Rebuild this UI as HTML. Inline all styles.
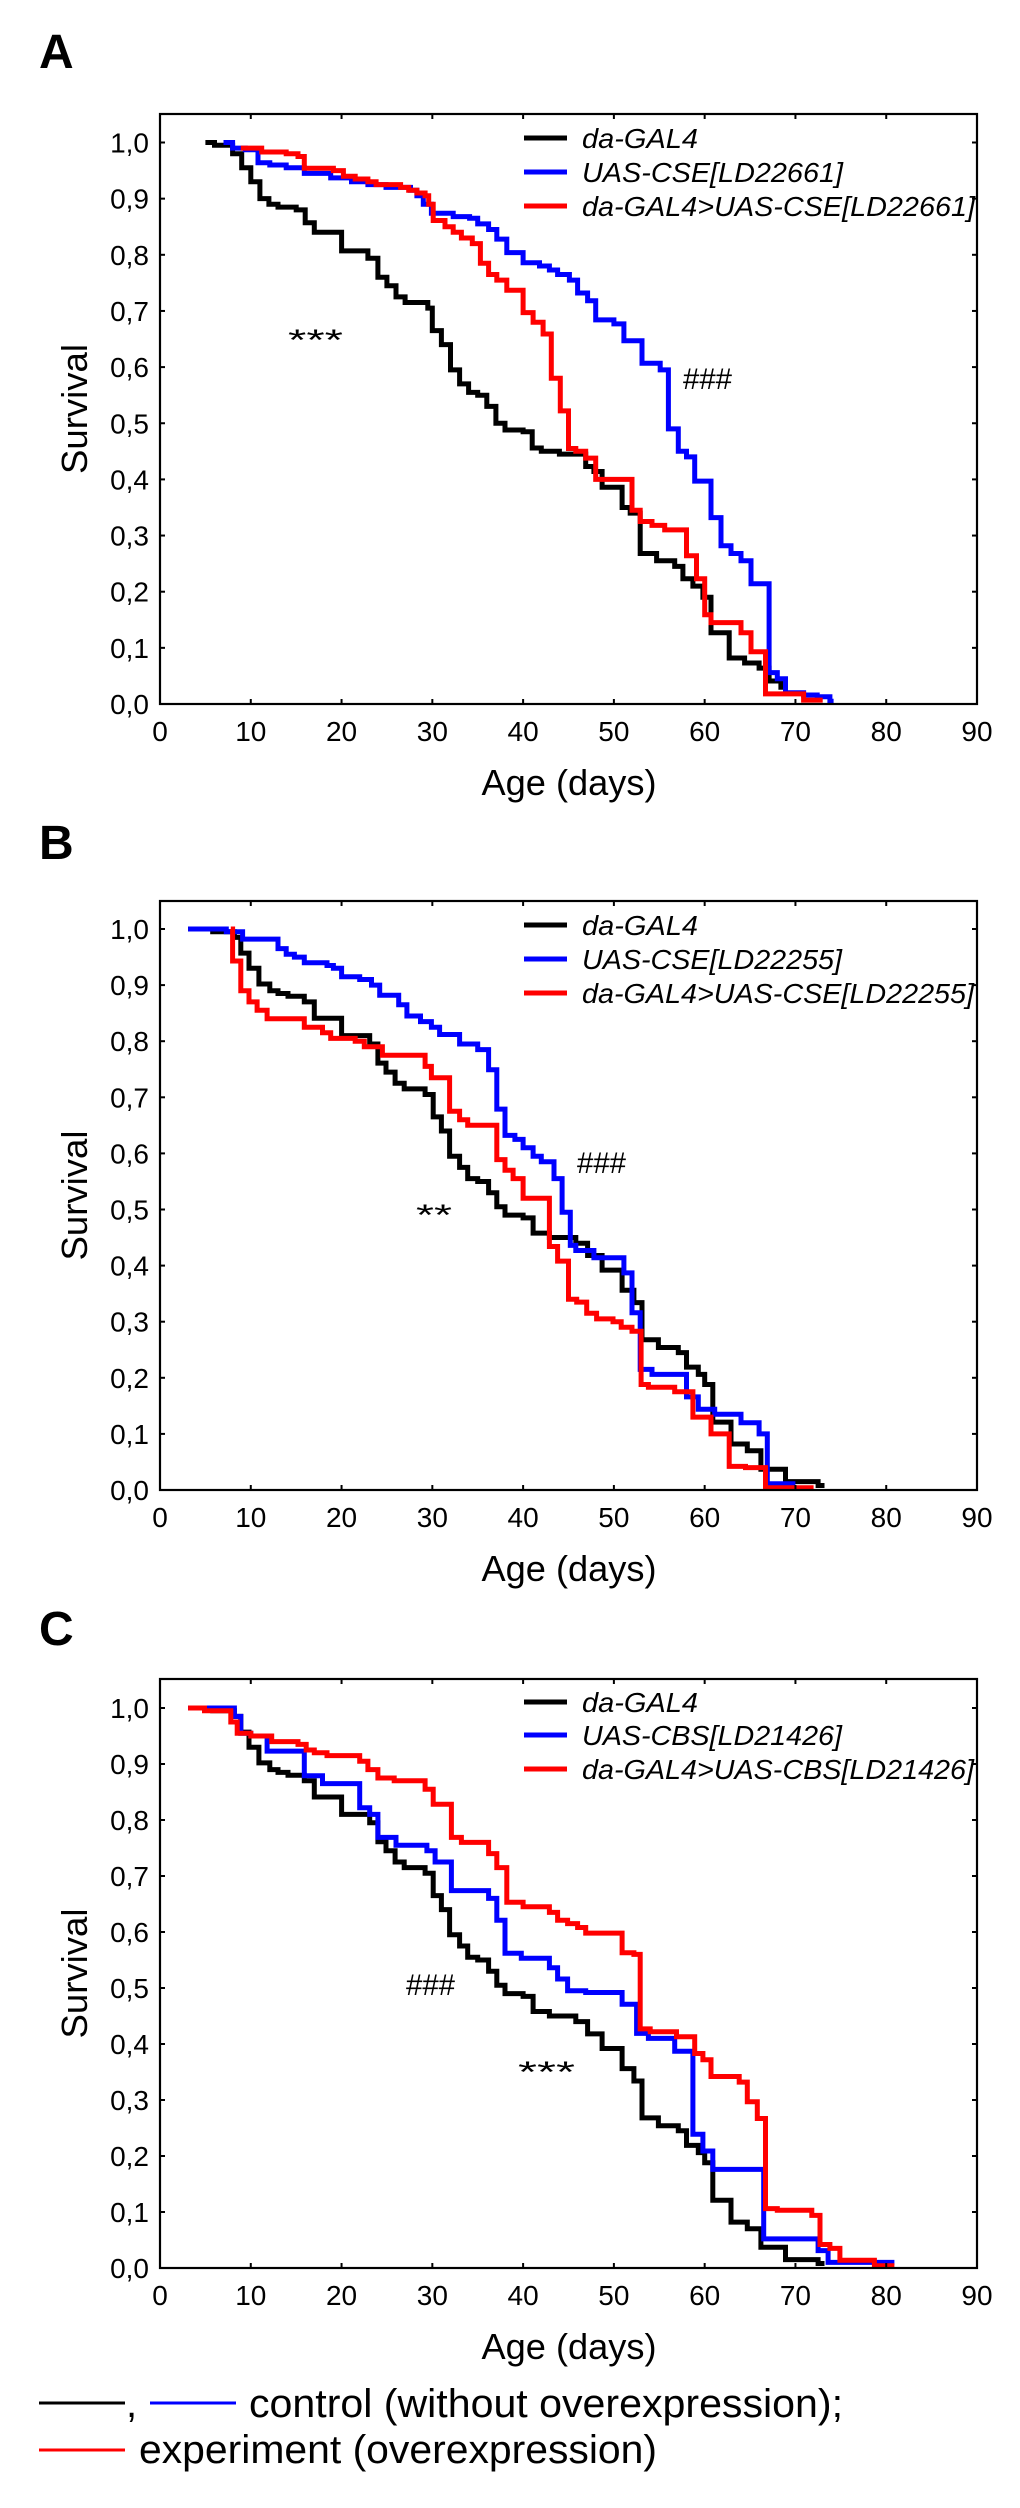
<!DOCTYPE html>
<html><head><meta charset="utf-8"><style>
html,body{margin:0;padding:0;background:#fff}
svg{display:block}
text{font-family:"Liberation Sans",Arial,sans-serif}
</style></head><body>
<svg id="chart" width="1020" height="2508" viewBox="0 0 1020 2508" xmlns="http://www.w3.org/2000/svg"></svg>
<script>
// ---- data ----
var xTicks = [0,10,20,30,40,50,60,70,80,90];
var yTicks = [0,0.1,0.2,0.3,0.4,0.5,0.6,0.7,0.8,0.9,1.0];
var yTickLabels = ["0,0","0,1","0,2","0,3","0,4","0,5","0,6","0,7","0,8","0,9","1,0"];

var aBlackT = [5,6,8,9,10,11,12,13,15,16,17,20,22.9,24,25,26,27,29.5,30,31,32,33,34,35,36,37,38,40,41,42,44,46.9,47.8,48.7,50.9,51.8,52.9,54.7,56.7,57.6,58.7,59.8,60.7,62.7,64.4,66,67.1,68.4,69];
var aBlackS = [1,.995,.98,.955,.93,.9,.89,.885,.88,.857,.84,.807,.794,.76,.745,.725,.715,.705,.665,.64,.595,.57,.555,.55,.53,.5,.488,.485,.456,.45,.445,.423,.414,.386,.35,.34,.268,.255,.245,.223,.21,.19,.127,.082,.073,.064,.041,.03,.03];
var aBlueT = [7,8,9.4,10.8,12.1,13.9,15.9,18.8,21.1,22.9,24.9,27.6,28.3,29,29.9,32.3,34.1,35,36.2,37.1,38.2,40,41.8,42.9,43.8,45.1,46,47.1,48,50,51.1,53.1,55.1,56,57.1,58,58.9,60.7,61.8,62.9,64,65.1,67.1,68,68.9,70.9,72.4,73.8,74.2];
var aBlueS = [1,.99,.987,.964,.96,.955,.945,.937,.93,.925,.92,.915,.905,.89,.874,.868,.865,.855,.845,.828,.804,.786,.78,.773,.765,.755,.732,.718,.684,.677,.647,.607,.595,.49,.45,.44,.397,.332,.282,.268,.255,.214,.056,.045,.02,.016,.013,.005,.005];
var aRedT = [8.9,11.2,13.9,15.2,15.9,19.1,20.2,21.5,22.9,23.8,26.5,27.4,28.3,29.2,29.6,30.1,31.4,32.3,33.2,34.4,35.3,36.2,37.1,38.2,40,41.1,42.2,43.1,44.1,45,45.8,46.9,48,52,52.9,54.2,55.6,58,59.1,60,60.7,64,65.1,66.7,70.9,73];
var aRedS = [.99,.983,.98,.975,.954,.95,.94,.935,.93,.925,.92,.915,.91,.905,.89,.861,.85,.84,.83,.82,.785,.765,.755,.737,.697,.68,.659,.58,.522,.455,.45,.438,.40,.345,.325,.318,.31,.264,.223,.159,.145,.127,.093,.018,.007,.007];

var bBlackT = [3.1,5.8,8.2,8.9,9.8,10.9,12.1,13,14.1,15.9,17,20,23.1,24,24.9,25.9,26.9,29.2,30.1,31,31.9,33,33.9,35,36.2,37.1,38,40,41.1,42.9,45.8,47.1,48.7,50.9,52.2,53.1,54.9,57.1,58,59.3,60,60.9,62.9,64.7,66.2,68.9,72.5,73.2];
var bBlackS = [1,.995,.985,.957,.93,.902,.89,.885,.88,.87,.841,.81,.795,.761,.745,.725,.715,.705,.665,.64,.595,.575,.555,.55,.53,.505,.49,.485,.458,.45,.44,.418,.392,.356,.334,.268,.254,.245,.219,.206,.188,.121,.082,.07,.037,.015,.008,.008];
var bBlueT = [3.1,7.3,9.1,13,13.9,14.8,15.9,18.4,19.1,20,22,23.3,24.2,26.3,27.2,28.7,29.9,30.8,33,35,36.2,37.1,38,39.1,40,41.1,42,43.4,44.3,45.2,45.8,47.8,51.1,52,52.9,54.2,58,59.3,61.1,64,66,66.9,70];
var bBlueS = [1,.995,.982,.965,.955,.95,.94,.935,.93,.915,.91,.90,.882,.865,.845,.835,.825,.812,.795,.785,.749,.679,.632,.625,.61,.595,.585,.555,.495,.436,.427,.414,.387,.316,.215,.206,.166,.144,.135,.12,.10,.011,.011];
var bRedT = [7.8,8.0,8.9,9.8,10.7,11.8,15.9,17.9,18.8,21.5,22.5,24.5,29.2,29.9,31.9,33,33.9,37.1,38,38.9,40,42.9,43.8,45,45.9,47,48.1,49.9,50.8,52,53,53.8,56.7,58.7,60.7,62.7,64.5,66.7,72];
var bRedS = [1,.943,.89,.87,.855,.84,.825,.815,.805,.80,.79,.775,.755,.735,.675,.66,.65,.589,.57,.555,.52,.434,.408,.34,.335,.315,.305,.30,.29,.283,.188,.183,.175,.13,.10,.042,.04,.004,.004];

var cBlackT = [3.1,5.8,8.2,8.9,9.8,10.9,12.1,13,14.1,15.9,17,20,23.1,24,24.9,25.9,26.9,29.2,30.1,31,31.9,33,33.9,35,36.2,37.1,38,40,41.1,42.9,45.8,47.1,48.7,50.9,52.2,53.1,54.9,57.1,58,59.3,60,60.9,62.9,64.7,66.2,68.9,72.5,73.2];
var cBlackS = [1,.995,.985,.957,.93,.902,.89,.885,.88,.87,.841,.81,.795,.761,.745,.725,.715,.705,.665,.64,.595,.575,.555,.55,.53,.505,.49,.485,.458,.45,.44,.418,.392,.356,.334,.268,.254,.245,.219,.206,.188,.121,.082,.07,.037,.015,.008,.008];
var cBlueT = [3.1,8.2,8.9,10,11.8,15.9,17.9,22,23.1,24,26,29.4,30.3,32.1,36.2,37.1,38,39.8,42.9,43.8,44.9,46.9,50.9,52.5,53.8,56.7,58.7,59.8,60.9,66.5,72.5,73.6,80.9];
var cBlueS = [1,.985,.955,.95,.923,.879,.865,.822,.81,.769,.755,.745,.725,.674,.66,.621,.562,.553,.536,.516,.495,.492,.471,.419,.41,.387,.239,.209,.176,.052,.031,.01,.01];
var cRedT = [3.1,4.9,7.8,8.5,10,12.3,15.2,16.1,17,18.4,22,22.9,24,25.8,29.2,30.1,32.1,33.2,36.2,37.1,38.2,40,42.9,43.8,44.9,46,46.9,50.9,52.2,52.9,54,56.9,58.9,59.8,60.7,63.8,64.7,65.8,66.7,68,71.8,72.7,73.8,74.9,78.7,80.9];
var cRedS = [1,.995,.975,.955,.95,.94,.935,.925,.92,.915,.905,.89,.875,.87,.855,.828,.769,.76,.74,.715,.653,.645,.635,.621,.615,.608,.598,.563,.56,.427,.422,.413,.383,.372,.342,.332,.297,.267,.106,.103,.094,.042,.035,.014,.004,.004];

var NS = "http://www.w3.org/2000/svg";
var svg = document.getElementById("chart");
function mk(tag, attrs, parent){ var e=document.createElementNS(NS,tag); for(var k in attrs) e.setAttribute(k,attrs[k]); (parent||svg).appendChild(e); return e; }

var X0 = 160, X1 = 977, XMAX = 90;
function xs(d){ return X0 + d*(X1-X0)/XMAX; }

function drawPanel(p){
  var g = mk("g",{});
  
  
  function ys(s){ return p.zero - s*(p.zero-p.one); }
  // panel label
  var lab = mk("text",{x:39,y:p.labelY,"font-size":48,"font-weight":"bold"},g);
  lab.textContent = p.id.toUpperCase();
  
  
  // series
  p.series.forEach(function(s){
    var d = "M"+xs(s.t[0]).toFixed(1)+","+ys(s.s[0]).toFixed(1);
    for(var i=1;i<s.t.length;i++){
      d += " H"+xs(s.t[i]).toFixed(1)+" V"+ys(s.s[i]).toFixed(1);
    }
    var path = mk("path",{d:d,fill:"none",stroke:s.color,"stroke-width":5,"stroke-linejoin":"miter","stroke-linecap":"butt"},g);
    
    
  });
  // box
  var box = mk("rect",{x:X0,y:p.top,width:X1-X0,height:p.zero-p.top,fill:"none",stroke:"#000","stroke-width":2.2},g);
  
  
  // x ticks
  xTicks.forEach(function(t){
    var x = xs(t);
    mk("line",{x1:x,y1:p.zero,x2:x,y2:p.zero-5,stroke:"#000","stroke-width":2},g);
    mk("line",{x1:x,y1:p.top,x2:x,y2:p.top+5,stroke:"#000","stroke-width":2},g);
    var tl = mk("text",{x:x,y:p.zero+37,"font-size":28,"text-anchor":"middle"},g);
    tl.textContent = String(t);
    
    
  });
  yTicks.forEach(function(v,i){
    var y = ys(v);
    mk("line",{x1:X0,y1:y,x2:X0+5,y2:y,stroke:"#000","stroke-width":2},g);
    mk("line",{x1:X1,y1:y,x2:X1-5,y2:y,stroke:"#000","stroke-width":2},g);
    var tl = mk("text",{x:149,y:y+10,"font-size":28,"text-anchor":"end"},g);
    tl.textContent = yTickLabels[i];
    
    
  });
  var xt = mk("text",{x:569,y:p.zero+91,"font-size":36,"text-anchor":"middle",textLength:175,lengthAdjust:"spacingAndGlyphs"},g);
  xt.textContent = "Age (days)";
  
  
  var cy = (p.top+p.zero)/2;
  var yt = mk("text",{x:87,y:cy,"font-size":36,"text-anchor":"middle",transform:"rotate(-90 87 "+cy+")",textLength:130,lengthAdjust:"spacingAndGlyphs"},g);
  yt.textContent = "Survival";
  
  
  // legend
  p.legend.forEach(function(l){
    var ln = mk("line",{x1:524,y1:l.y,x2:567,y2:l.y,stroke:l.color,"stroke-width":5},g);
    
    
    var tx = mk("text",{x:582,y:l.y+10,"font-size":28,"font-style":"italic",textLength:l.w,lengthAdjust:"spacingAndGlyphs"},g);
    tx.textContent = l.label;
    
    
  });
  p.notes.forEach(function(n){
    var tx = mk("text",{x:n.x,y:n.y,"font-size":30,"font-family":"Liberation Serif, serif",textLength:n.w,lengthAdjust:"spacingAndGlyphs"},g);
    tx.textContent = n.text;
    
    
  });
}

drawPanel({id:"a",top:114,zero:704,one:142.5,labelY:68,
  series:[{t:aBlackT,s:aBlackS,color:"#000",name:"series-da-gal4"},{t:aBlueT,s:aBlueS,color:"#0000ff",name:"series-uas-cse-ld22661"},{t:aRedT,s:aRedS,color:"#ff0000",name:"series-da-gal4-uas-cse-ld22661"}],
  legend:[{y:138,color:"#000",label:"da-GAL4",w:116},{y:172,color:"#0000ff",label:"UAS-CSE[LD22661]",w:261},{y:206,color:"#ff0000",label:"da-GAL4>UAS-CSE[LD22661]",w:393}],
  notes:[{x:288,y:350,text:"***",w:55},{x:683,y:389,text:"###",w:49}]});
drawPanel({id:"b",top:901,zero:1490,one:929,labelY:859,
  series:[{t:bBlackT,s:bBlackS,color:"#000",name:"series-da-gal4"},{t:bBlueT,s:bBlueS,color:"#0000ff",name:"series-uas-cse-ld22255"},{t:bRedT,s:bRedS,color:"#ff0000",name:"series-da-gal4-uas-cse-ld22255"}],
  legend:[{y:925,color:"#000",label:"da-GAL4",w:116},{y:959,color:"#0000ff",label:"UAS-CSE[LD22255]",w:260},{y:993,color:"#ff0000",label:"da-GAL4>UAS-CSE[LD22255]",w:392}],
  notes:[{x:416,y:1225,text:"**",w:36},{x:577,y:1173,text:"###",w:49}]});
drawPanel({id:"c",top:1679,zero:2268,one:1708,labelY:1645,
  series:[{t:cBlackT,s:cBlackS,color:"#000",name:"series-da-gal4"},{t:cBlueT,s:cBlueS,color:"#0000ff",name:"series-uas-cbs-ld21426"},{t:cRedT,s:cRedS,color:"#ff0000",name:"series-da-gal4-uas-cbs-ld21426"}],
  legend:[{y:1702,color:"#000",label:"da-GAL4",w:116},{y:1735,color:"#0000ff",label:"UAS-CBS[LD21426]",w:260},{y:1769,color:"#ff0000",label:"da-GAL4>UAS-CBS[LD21426]",w:392}],
  notes:[{x:406,y:1995,text:"###",w:49},{x:518,y:2082,text:"***",w:57}]});

// bottom legend
var bl = mk("g",{});


var l1 = mk("line",{x1:39,y1:2403,x2:125,y2:2403,stroke:"#000","stroke-width":3},bl);


var cm = mk("text",{x:126,y:2417,"font-size":40},bl); cm.textContent=",";


var l2 = mk("line",{x1:150,y1:2403,x2:236,y2:2403,stroke:"#0000ff","stroke-width":3},bl);


var t1 = mk("text",{x:249,y:2417,"font-size":40,textLength:594,lengthAdjust:"spacingAndGlyphs"},bl);
t1.textContent = "control (without overexpression);";


var l3 = mk("line",{x1:39,y1:2450,x2:125,y2:2450,stroke:"#ff0000","stroke-width":3},bl);


var t2 = mk("text",{x:139,y:2463,"font-size":40,textLength:518,lengthAdjust:"spacingAndGlyphs"},bl);
t2.textContent = "experiment (overexpression)";


</script>
</body></html>
